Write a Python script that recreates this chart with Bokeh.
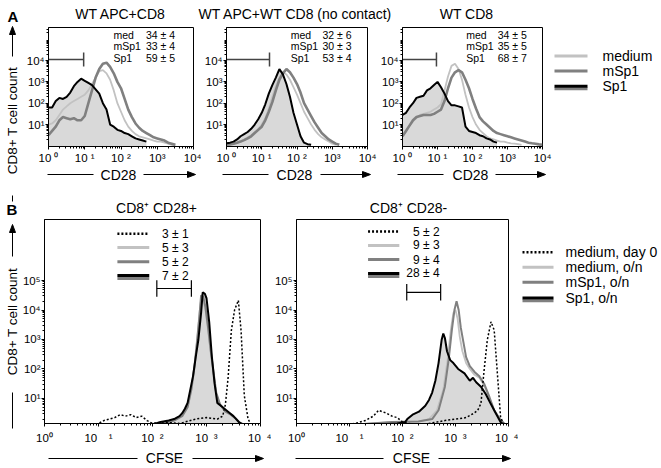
import math
from bokeh.plotting import figure
from bokeh.layouts import row, column
from bokeh.models import Range1d, FixedTicker, CustomJSTickFormatter
from bokeh.core.properties import value
from bokeh.embed import file_html
from bokeh.resources import INLINE

FONT = "Liberation Sans"

# ------------------------------------------------------------------ data
panel_a_titles = ["WT APC+CD8", "WT APC+WT CD8 (no contact)", "WT CD8"]
panel_b_titles = ["CD8\u207a CD28+", "CD8\u207a CD28-"]
legend_a_labels = ["medium", "mSp1", "Sp1"]
legend_b_labels = ["medium, day 0", "medium, o/n", "mSp1, o/n", "Sp1, o/n"]
stat_names = ["med", "mSp1", "Sp1"]
a_stats = [["34 \u00b1 4", "33 \u00b1 4", "59 \u00b1 5"],
           ["32 \u00b1 6", "30 \u00b1 3", "53 \u00b1 4"],
           ["34 \u00b1 5", "35 \u00b1 5", "68 \u00b1 7"]]
b_stats = [["3 \u00b1 1", "5 \u00b1 3", "5 \u00b1 2", "7 \u00b1 2"],
           ["5 \u00b1 2", "9 \u00b1 3", "9 \u00b1 4", "28 \u00b1 4"]]
x_tick_labels_a = ["10 \u2070", "10 \u00b9", "10 \u00b2", "10\u00b3", "10\u2074"]
y_tick_labels_a = ["10\u00b9", "10\u00b2", "10\u00b3", "10\u2074"]
x_tick_labels_b = ["10\u2070", "10\u2003\u00b9", "10\u2002\u00b2", "10\u2002\u00b3", "10\u2002\u2074"]
y_tick_labels_b = ["10\u00b9", "10\u00b2", "10\u00b3", "10\u2074", "10\u2075"]

# CD28 channel (log10 decades) for panel A histograms
cd28_log_bins = [0.0, 0.1, 0.2, 0.3, 0.4, 0.5, 0.6, 0.7, 0.8, 0.9, 1.0, 1.1, 1.2, 1.3,
                 1.4, 1.5, 1.6, 1.7, 1.8, 1.9, 2.0, 2.1, 2.2, 2.3, 2.4, 2.5, 2.6, 2.7,
                 2.8, 2.9, 3.0, 3.1, 3.2, 3.3, 3.4, 3.5, 3.6, 3.7, 3.8, 3.9, 4.0]

# log10 cell counts per bin
a1_medium = [1.0, 1.05, 1.2, 1.45, 1.7, 1.85, 2.0, 2.1, 2.2, 2.3, 2.4, 2.6, 2.9, 3.2, 3.5,
             3.55, 3.4, 3.1, 2.6, 2.0, 1.6, 1.2, 0.9, 0.7, 0.55, 0.45, 0.4, 0.35, 0.3, 0.25,
             0.2, 0.2, 0.15, 0.1, 0.05, 0.02]
a1_msp1 = [0.5, 0.7, 0.9, 1.2, 1.35, 1.3, 1.25, 1.3, 1.2, 1.2, 1.4, 2.0, 2.6, 3.2, 3.6, 3.85,
           3.9, 3.7, 3.4, 3.0, 2.7, 2.2, 1.7, 1.35, 1.05, 0.85, 0.7, 0.6, 0.5, 0.4, 0.35, 0.3,
           0.25, 0.15, 0.1, 0.05]
a1_sp1 = [1.8, 1.8, 2.1, 2.25, 2.2, 2.3, 2.5, 2.8, 3.0, 3.15, 3.05, 2.95, 2.85, 2.65, 2.45,
          2.0, 1.7, 1.0, 0.9, 0.75, 0.7, 0.6, 0.55, 0.45, 0.35, 0.3, 0.25, 0.2]

a2_medium = [0.05, 0.07, 0.1, 0.15, 0.22, 0.3, 0.4, 0.5, 0.65, 0.8, 1.0, 1.3, 1.75, 2.3, 2.8,
             3.2, 3.45, 3.35, 3.1, 2.75, 2.4, 2.0, 1.6, 1.3, 1.0, 0.75, 0.55, 0.4, 0.3, 0.2,
             0.1, 0.05]
a2_msp1 = [0.05, 0.07, 0.1, 0.15, 0.2, 0.27, 0.35, 0.45, 0.6, 0.75, 0.9, 1.2, 1.6, 2.05, 2.6,
           3.1, 3.4, 3.6, 3.45, 3.2, 2.9, 2.5, 2.0, 1.7, 1.4, 1.1, 0.85, 0.6, 0.45, 0.3, 0.2,
           0.1, 0.05]
a2_sp1 = [0.12, 0.15, 0.2, 0.3, 0.45, 0.55, 0.65, 0.8, 1.0, 1.25, 1.55, 1.95, 2.45, 2.85, 3.2,
          3.6, 3.35, 2.9, 2.3, 1.55, 1.0, 0.45, 0.15, 0.08, 0.05]

a3_medium = [0.5, 0.7, 0.95, 1.15, 1.3, 1.45, 1.5, 1.55, 1.6, 1.7, 1.8, 1.95, 2.6, 3.25, 3.75,
             3.85, 3.6, 3.1, 2.4, 1.8, 1.35, 1.0, 0.75, 0.6, 0.45, 0.35, 0.3, 0.25, 0.2, 0.2,
             0.15, 0.12, 0.1, 0.08, 0.05]
a3_msp1 = [0.45, 0.7, 0.95, 1.2, 1.35, 1.4, 1.45, 1.45, 1.45, 1.5, 1.6, 1.7, 2.1, 2.7, 3.2,
           3.45, 3.55, 3.45, 3.1, 2.7, 2.2, 1.75, 1.35, 1.15, 1.0, 0.85, 0.7, 0.6, 0.55, 0.5,
           0.45, 0.4, 0.35, 0.3, 0.25, 0.2, 0.15, 0.12, 0.1, 0.07, 0.05]
a3_sp1 = [1.45, 1.55, 1.8, 2.0, 2.25, 2.3, 2.35, 2.6, 2.7, 2.85, 3.0, 2.75, 2.45, 2.1, 1.9,
          1.9, 1.85, 1.8, 0.9, 0.7, 0.65, 0.6, 0.5, 0.45, 0.35, 0.3, 0.2, 0.15]

# panel B: CFSE channel (log10) and log10 counts, per curve
b1_day0_x = [0.8, 1.0, 1.1, 1.2, 1.3, 1.4, 1.5, 1.6, 1.7, 1.8, 1.9, 2.0, 2.2, 2.5, 2.8, 3.0,
             3.2, 3.3, 3.35, 3.4, 3.46, 3.52, 3.59, 3.64, 3.67, 3.7, 3.77, 3.83]
b1_day0_y = [0.1, 0.15, 0.25, 0.3, 0.35, 0.45, 0.4, 0.45, 0.35, 0.4, 0.25, 0.15, 0.2, 0.15,
             0.3, 0.35, 0.3, 0.4, 0.8, 1.7, 3.3, 4.0, 4.33, 3.3, 2.2, 1.1, 0.3, 0.1]
b1_medium_x = [1.5, 2.2, 2.4, 2.55, 2.65, 2.72, 2.78, 2.83, 2.87, 2.9, 2.94, 2.98, 3.03, 3.08,
               3.13, 3.18, 3.25, 3.35, 3.45, 3.55, 3.65]
b1_medium_y = [0.1, 0.15, 0.25, 0.45, 0.75, 1.35, 2.2, 3.1, 3.9, 4.35, 4.3, 4.0, 3.3, 2.5,
               1.8, 1.15, 0.8, 0.6, 0.45, 0.3, 0.1]
b1_msp1_x = [1.5, 2.2, 2.4, 2.55, 2.65, 2.72, 2.78, 2.83, 2.87, 2.9, 2.94, 2.98, 3.03, 3.08,
             3.13, 3.18, 3.25, 3.35, 3.45, 3.55, 3.65]
b1_msp1_y = [0.1, 0.15, 0.25, 0.4, 0.7, 1.3, 2.1, 3.0, 3.8, 4.5, 4.45, 4.1, 3.4, 2.6, 1.9,
             1.2, 0.8, 0.55, 0.45, 0.3, 0.1]
b1_sp1_x = [1.5, 2.0, 2.15, 2.3, 2.4, 2.5, 2.55, 2.6, 2.65, 2.7, 2.75, 2.8, 2.85, 2.9, 2.93,
            2.97, 3.0, 3.05, 3.1, 3.15, 3.2, 3.3, 3.4, 3.5, 3.6, 3.7]
b1_sp1_y = [0.1, 0.12, 0.2, 0.25, 0.3, 0.4, 0.5, 0.65, 0.85, 1.3, 1.75, 2.4, 3.0, 3.9, 4.6,
            4.55, 4.4, 3.6, 2.4, 1.5, 0.85, 0.7, 0.55, 0.4, 0.2, 0.1]

b2_day0_x = [0.9, 1.1, 1.3, 1.45, 1.55, 1.62, 1.7, 1.8, 1.9, 2.0, 2.2, 2.5, 2.8, 3.0, 3.2,
             3.35, 3.42, 3.48, 3.54, 3.6, 3.67, 3.73, 3.79, 3.85, 3.91]
b2_day0_y = [0.1, 0.15, 0.25, 0.4, 0.6, 0.55, 0.5, 0.4, 0.35, 0.2, 0.12, 0.15, 0.25, 0.3,
             0.35, 0.5, 0.6, 0.83, 1.96, 2.98, 3.6, 3.32, 1.85, 0.38, 0.1]
b2_medium_x = [1.0, 1.8, 2.3, 2.5, 2.65, 2.77, 2.85, 2.91, 2.96, 3.0, 3.04, 3.08, 3.13, 3.2,
               3.27, 3.36, 3.45, 3.54, 3.64, 3.73, 3.85, 3.95]
b2_medium_y = [0.1, 0.2, 0.22, 0.3, 0.6, 1.3, 2.3, 3.3, 3.9, 4.0, 3.7, 3.1, 2.6, 2.2, 2.0,
               1.8, 1.7, 1.45, 1.0, 0.6, 0.25, 0.1]
b2_msp1_x = [1.0, 1.8, 2.3, 2.56, 2.68, 2.8, 2.87, 2.93, 2.98, 3.02, 3.06, 3.1, 3.15, 3.2,
             3.27, 3.36, 3.45, 3.54, 3.64, 3.73, 3.85, 3.95]
b2_msp1_y = [0.1, 0.2, 0.22, 0.3, 0.6, 1.4, 2.3, 3.3, 4.0, 4.3, 4.0, 3.4, 2.9, 2.4, 2.1,
             1.9, 1.75, 1.5, 1.05, 0.6, 0.27, 0.1]
b2_sp1_x = [1.0, 1.5, 1.9, 2.05, 2.09, 2.19, 2.31, 2.43, 2.5, 2.56, 2.62, 2.68, 2.74, 2.77,
            2.8, 2.84, 2.9, 2.96, 3.05, 3.17, 3.27, 3.33, 3.39, 3.48, 3.57, 3.67, 3.76, 3.85,
            3.91]
b2_sp1_y = [0.1, 0.12, 0.15, 0.2, 0.3, 0.45, 0.55, 0.75, 0.95, 1.2, 1.6, 2.2, 3.0, 3.2, 3.05,
            2.6, 2.3, 2.2, 2.0, 1.85, 1.6, 1.7, 1.55, 1.4, 1.15, 0.8, 0.5, 0.2, 0.1]

# gates (log10 units)
a_gate_end = [0.97, 1.22, 0.97]
a_gate_level = 4.05
b_gate = [2.08, 2.72]
b_gate_level = [4.73, 4.6]

# ------------------------------------------------------------------ styles
C_FILL = "#d9d9d9"
C_MED = "#c2c2c2"
C_MSP1 = "#808080"
C_SP1 = "#000000"
C_GATE = "#444444"

A_YR = (10 ** -0.03, 10 ** 5.55)
B_YR = (10 ** 0.15, 10 ** 7.07)
W_END = 660
H_END = 467


def minor_list(k0, k1):
    return [m * 10 ** k for k in range(k0, k1) for m in range(2, 10)]


def log_plot(width, height, borders, y_range, yticks, yminor, ylabels, xlabels, xstand):
    l, r, t, b = borders
    p = figure(width=width, height=height, title=None,
               x_axis_type="log", y_axis_type="log",
               x_range=Range1d(1, 10 ** 4), y_range=Range1d(*y_range),
               min_border_left=l, min_border_right=r, min_border_top=t, min_border_bottom=b,
               output_backend="svg", toolbar_location=None)
    p.grid.visible = False
    p.outline_line_color = "black"
    p.outline_line_alpha = 1
    p.outline_line_width = 1
    p.xaxis.ticker = FixedTicker(ticks=[1, 10, 100, 1000, 10000], minor_ticks=minor_list(0, 4))
    p.xaxis.formatter = CustomJSTickFormatter(
        args=dict(labels=xlabels), code="return labels[Math.round(Math.log10(tick))];")
    p.yaxis.ticker = FixedTicker(ticks=yticks, minor_ticks=yminor)
    p.yaxis.formatter = CustomJSTickFormatter(
        args=dict(labels=ylabels), code="return labels[Math.round(Math.log10(tick)) - 1];")
    for ax in p.axis:
        ax.axis_line_color = "black"
        ax.major_tick_line_color = "black"
        ax.minor_tick_line_color = "black"
        ax.major_tick_in = 0
        ax.major_tick_out = 3
        ax.minor_tick_in = 0
        ax.minor_tick_out = 2
        ax.major_label_standoff = 1
        ax.major_label_text_font = FONT
        ax.major_label_text_font_size = "11.5px"
        ax.major_label_text_color = "black"
    p.xaxis.major_label_standoff = xstand
    return p


def strip(x0, x1, y0, y1):
    s = figure(width=x1 - x0, height=y1 - y0, title=None,
               x_range=Range1d(x0, x1), y_range=Range1d(-y1, -y0),
               x_axis_location=None, y_axis_location=None, min_border=0,
               output_backend="svg", toolbar_location=None)
    s.grid.visible = False
    s.outline_line_color = None
    return s


def put_text(s, x, y, txt, size, align="center", baseline="middle", angle=0.0, bold=False):
    s.text(x=[x], y=[-y], text=[txt], text_font=value(FONT), text_font_size=size,
           text_align=align, text_baseline=baseline, angle=angle, text_color="black",
           text_font_style="bold" if bold else "normal")


def hseg(s, x0, x1, y, color="black", width=1.0, dash="solid"):
    s.segment(x0=[x0], y0=[-y], x1=[x1], y1=[-y], line_color=color, line_width=width,
              line_dash=dash)


def vseg(s, x, y0, y1):
    s.segment(x0=[x], y0=[-y0], x1=[x], y1=[-y1], line_color="black", line_width=1)


def right_arrow(s, tip, y):
    s.patch([tip - 8, tip, tip - 8], [-(y - 3), -y, -(y + 3)], color="black")


def up_arrow(s, x, tip):
    s.patch([x - 3, x, x + 3], [-(tip + 8), -tip, -(tip + 8)], color="black")


def P(v):
    return [10 ** u for u in v]

# ------------------------------------------------------------------ panel A
a_series = [(a1_medium, a1_msp1, a1_sp1), (a2_medium, a2_msp1, a2_sp1),
            (a3_medium, a3_msp1, a3_sp1)]
a_geom = [(182, (29, 8, 1, 22)), (176, (21, 10, 1, 22)), (175, (21, 10, 1, 22))]
a_text_x = [1.79, 1.82, 1.82]
a_rows = [5.22, 4.66, 4.10]
a_plots = []
for i, ((med, msp, sp), (w, brd)) in enumerate(zip(a_series, a_geom)):
    p = log_plot(w, 142, brd, A_YR, [10, 100, 1000, 10000], minor_list(0, 6),
                 y_tick_labels_a, x_tick_labels_a, 2)
    xs = P(cd28_log_bins)
    p.varea(x=xs[:len(sp)], y1=A_YR[0], y2=P(sp), fill_color=C_FILL)
    p.line(xs[:len(med)], P(med), line_color=C_MED, line_width=1.8)
    p.line(xs[:len(msp)], P(msp), line_color=C_MSP1, line_width=2.6)
    p.line(xs[:len(sp)], P(sp), line_color=C_SP1, line_width=2.0)
    # gate
    p.segment(x0=[1], y0=[10 ** a_gate_level], x1=[10 ** a_gate_end[i]], y1=[10 ** a_gate_level],
              line_color=C_GATE, line_width=1.5)
    p.segment(x0=[10 ** a_gate_end[i]], y0=[10 ** (a_gate_level - 0.33)],
              x1=[10 ** a_gate_end[i]], y1=[10 ** (a_gate_level + 0.33)],
              line_color=C_GATE, line_width=1.5)
    # stats
    p.text(x=[10 ** a_text_x[i]] * 3, y=P(a_rows), text=stat_names, text_font=value(FONT),
           text_font_size="10.5px", text_baseline="middle", text_align="left")
    p.text(x=[10 ** (a_text_x[i] + 0.9)] * 3, y=P(a_rows), text=a_stats[i],
           text_font=value(FONT), text_font_size="10.5px", text_baseline="middle",
           text_align="left")
    a_plots.append(p)

legA = strip(552, W_END, 26, 168)
leg_a_rows = [60, 78, 96]
hseg(legA, 554, 587, leg_a_rows[0], C_MED, 3)
hseg(legA, 554, 587, leg_a_rows[1], C_MSP1, 3)
hseg(legA, 554, 587, leg_a_rows[2] + 3, C_MSP1, 3)
hseg(legA, 554, 587, leg_a_rows[2], C_SP1, 3)
for lab, yy in zip(legend_a_labels, leg_a_rows):
    put_text(legA, 602, yy, lab, "14px", align="left")

# ------------------------------------------------------------------ panel B
b_series = [((b1_day0_x, b1_day0_y), (b1_medium_x, b1_medium_y), (b1_msp1_x, b1_msp1_y),
             (b1_sp1_x, b1_sp1_y)),
            ((b2_day0_x, b2_day0_y), (b2_medium_x, b2_medium_y), (b2_msp1_x, b2_msp1_y),
             (b2_sp1_x, b2_sp1_y))]
b_geom = [(252, (24, 11, 3, 24)), (247, (21, 10, 3, 24))]
b_leg_rows = [[6.59, 6.12, 5.64, 5.17], [6.66, 6.19, 5.71, 5.24]]
b_leg_text_x = [2.67, 2.70]
b_plots = []
for i, (ser, (w, brd)) in enumerate(zip(b_series, b_geom)):
    p = log_plot(w, 231, brd, B_YR, [10, 100, 1000, 10000, 100000], minor_list(0, 5),
                 y_tick_labels_b, x_tick_labels_b, 5)
    d0, med, msp, sp = ser
    p.varea(x=P(sp[0]), y1=B_YR[0], y2=P(sp[1]), fill_color=C_FILL)
    p.line(P(med[0]), P(med[1]), line_color=C_MED, line_width=1.8)
    p.line(P(msp[0]), P(msp[1]), line_color=C_MSP1, line_width=2.0)
    p.line(P(sp[0]), P(sp[1]), line_color=C_SP1, line_width=2.0)
    p.line(P(d0[0]), P(d0[1]), line_color="black", line_width=1.5, line_dash="2 2")
    # gate
    gy = 10 ** b_gate_level[i]
    p.segment(x0=[10 ** b_gate[0]], y0=[gy], x1=[10 ** b_gate[1]], y1=[gy],
              line_color="black", line_width=1.2)
    for gx in b_gate:
        p.segment(x0=[10 ** gx], y0=[10 ** (b_gate_level[i] - 0.28)], x1=[10 ** gx],
                  y1=[10 ** (b_gate_level[i] + 0.28)], line_color="black", line_width=1.2)
    # inner legend
    rows_ = b_leg_rows[i]
    lx0, lx1 = 10 ** 1.35, 10 ** 1.94
    p.segment(x0=[lx0], y0=[10 ** rows_[0]], x1=[lx1], y1=[10 ** rows_[0]],
              line_color="black", line_width=2.5, line_dash="2 2")
    p.segment(x0=[lx0], y0=[10 ** rows_[1]], x1=[lx1], y1=[10 ** rows_[1]],
              line_color=C_MED, line_width=3)
    p.segment(x0=[lx0], y0=[10 ** rows_[2]], x1=[lx1], y1=[10 ** rows_[2]],
              line_color=C_MSP1, line_width=3)
    p.segment(x0=[lx0], y0=[10 ** (rows_[3] - 0.1)], x1=[lx1], y1=[10 ** (rows_[3] - 0.1)],
              line_color=C_MSP1, line_width=3)
    p.segment(x0=[lx0], y0=[10 ** rows_[3]], x1=[lx1], y1=[10 ** rows_[3]],
              line_color="black", line_width=3)
    p.text(x=[10 ** b_leg_text_x[i]] * 4, y=P(rows_), text=b_stats[i], text_font=value(FONT),
           text_font_size="12px", text_baseline="middle", text_align="right")
    b_plots.append(p)

legB = strip(518, W_END, 216, 447)
leg_b_rows = [253, 270, 287, 305]
hseg(legB, 522, 553, leg_b_rows[0], "black", 2.5, "2 2")
hseg(legB, 522, 553, leg_b_rows[1], C_MED, 3)
hseg(legB, 522, 553, leg_b_rows[2], C_MSP1, 3)
hseg(legB, 522, 553, leg_b_rows[3] + 3, C_MSP1, 3)
hseg(legB, 522, 553, leg_b_rows[3], C_SP1, 3)
for lab, yy in zip(legend_b_labels, leg_b_rows):
    put_text(legB, 565, yy, lab, "14px", align="left")

# ------------------------------------------------------------------ strips
left = strip(0, 19, 0, H_END)
put_text(left, 7, 16, "A", "15px", align="left", baseline="alphabetic", bold=True)
put_text(left, 6, 209, "B", "15px", align="left", baseline="alphabetic", bold=True)
put_text(left, 12, 120, "CD8+ T cell count", "13.5px", angle=math.pi / 2)
vseg(left, 12, 195, 201)
vseg(left, 12, 34, 56)
up_arrow(left, 12, 26)
put_text(left, 12, 321, "CD8+ T cell count", "13.5px", angle=math.pi / 2)
vseg(left, 12, 392, 428)
vseg(left, 12, 232, 256)
up_arrow(left, 12, 224)

topA = strip(19, W_END, 0, 26)
for t, cx in zip(panel_a_titles, [120, 295, 466]):
    put_text(topA, cx, 13, t, "14px", baseline="middle")

mid = strip(19, W_END, 168, 216)
for (l0, l1, tx, r0, r1, tip) in [(47, 93, 118, 143, 187, 195), (222, 268, 294, 320, 362, 370),
                                  (397, 443, 470, 495, 537, 545)]:
    hseg(mid, l0, l1, 174)
    hseg(mid, r0, r1, 174)
    right_arrow(mid, tip, 174)
    put_text(mid, tx, 174, "CD28", "14px")
for t, cx in zip(panel_b_titles, [156, 408]):
    put_text(mid, cx, 207, t, "14px")

bottom = strip(19, W_END, 447, H_END)
for (l0, l1, tx, r0, r1, tip) in [(48, 137, 164, 192, 255, 263), (295, 383, 411, 438, 502, 510)]:
    hseg(bottom, l0, l1, 458)
    hseg(bottom, r0, r1, 458)
    right_arrow(bottom, tip, 458)
    put_text(bottom, tx, 457, "CFSE", "14px")

rowA = row(a_plots[0], a_plots[1], a_plots[2], legA)
rowB = row(b_plots[0], b_plots[1], legB)
layout = row(left, column(topA, rowA, mid, rowB, bottom))

with open("out.html", "w") as f:
    f.write(file_html(layout, INLINE, "Figure"))
